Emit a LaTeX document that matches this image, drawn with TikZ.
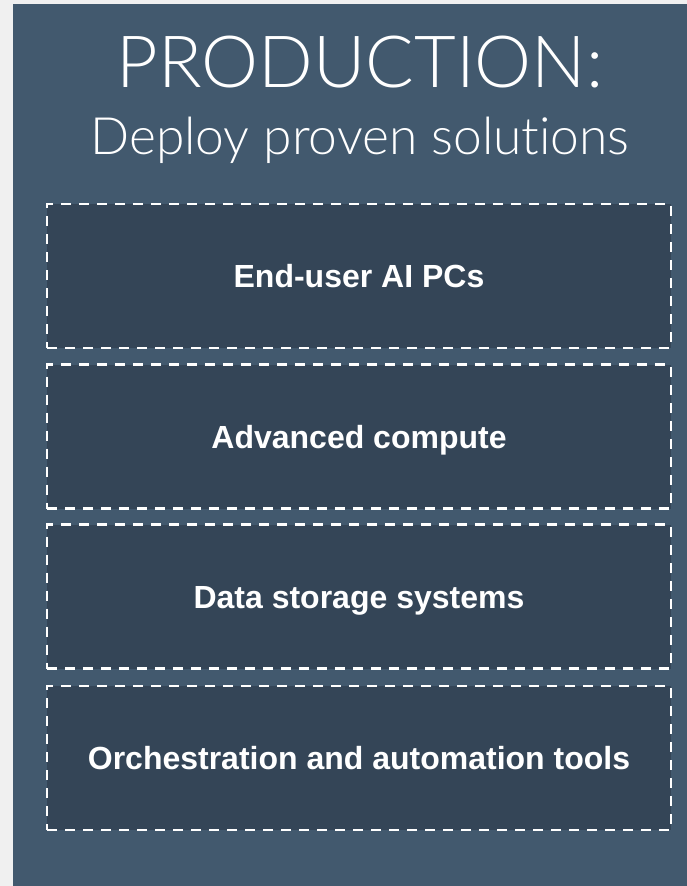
\documentclass[tikz,border=0pt]{standalone}
\usepackage{fontspec}
\setmainfont{Liberation Sans}
\newfontfamily\thinfont{Lato Light}[Ligatures=NoCommon]
\definecolor{pagebg}{HTML}{F0F0F0}
\definecolor{panelbg}{HTML}{42596E}
\definecolor{boxbg}{HTML}{344557}
\begin{document}
\begin{tikzpicture}[x=1pt,y=-1pt,
  layerbox/.style={draw=white, line width=2.2pt, dash pattern=on 10pt off 8pt,
    fill=boxbg, minimum width=624pt, minimum height=144pt, inner sep=0pt,
    text=white, font=\fontsize{32}{32}\selectfont\bfseries,
    text height=23pt, text depth=0pt},
  titletext/.style={text=white, anchor=base, inner sep=0pt}]
\useasboundingbox (0,0) rectangle (687,886);
\fill[pagebg] (0,0) rectangle (687,886);
\fill[panelbg] (13,4) rectangle (687,886);
\node[titletext, font=\thinfont\fontsize{72}{72}\selectfont] (title) at (360,87) {PRODUCTION:};
\node[titletext, font=\thinfont\fontsize{51.5}{51.5}\selectfont] (subtitle) at (360,154) {Deploy proven solutions};
\node[layerbox] (b1) at (359,276) {End-user AI PCs};
\node[layerbox] (b2) at (359,436.5) {Advanced compute};
\node[layerbox] (b3) at (359,596.5) {Data storage systems};
\node[layerbox] (b4) at (359,758) {Orchestration and automation tools};
\end{tikzpicture}
\end{document}
